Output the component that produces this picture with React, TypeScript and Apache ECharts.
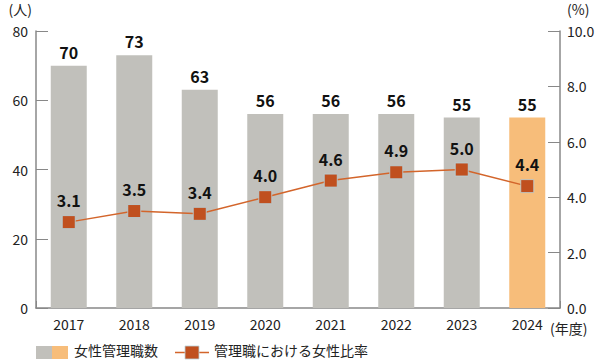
import React, { useEffect, useRef } from "react";
import * as echarts from "echarts";

const years = ["2017", "2018", "2019", "2020", "2021", "2022", "2023", "2024"];
const managers = [70, 73, 63, 56, 56, 56, 55, 55];
const ratio = [3.1, 3.5, 3.4, 4.0, 4.6, 4.9, 5.0, 4.4];
const leftTicks = [0, 20, 40, 60, 80];
const rightTicks = [0, 2, 4, 6, 8, 10];

const GRAY = "#c1c0bb";
const ORANGE = "#f7bd7a";
const MARK = "#c0501f";
const LINE = "#d3652b";
const FONT = "'Noto Sans CJK JP', 'Noto Sans', sans-serif";

export default function App() {
  const ref = useRef<HTMLDivElement>(null);
  useEffect(() => {
    if (!ref.current) return;
    const chart = echarts.init(ref.current, null, { renderer: "svg" });
    const lastIdx = years.length - 1;
    chart.setOption({
      animation: false,
      textStyle: { fontFamily: FONT },
      grid: { left: 36, right: 40, top: 31, bottom: 54 },
      xAxis: {
        type: "category",
        data: years,
        axisLine: { lineStyle: { color: "#888", width: 1.5 } },
        axisTick: {
          show: true,
          inside: true,
          length: 7,
          lineStyle: { color: "#888" },
          interval: (i: number) => i === lastIdx,
        },
        axisLabel: { color: "#222", fontSize: 14, margin: 9, fontFamily: FONT },
      },
      yAxis: [
        {
          type: "value",
          min: leftTicks[0],
          max: leftTicks[leftTicks.length - 1],
          interval: 20,
          name: "(人)",
          nameLocation: "end",
          nameGap: 15,
          nameTextStyle: { color: "#222", fontSize: 14, align: "right", padding: [0, 4, 0, 0], fontFamily: FONT },
          axisLine: { show: true, lineStyle: { color: "#888", width: 1.5 } },
          axisTick: { show: true, inside: true, length: 12, lineStyle: { color: "#888" } },
          axisLabel: { color: "#222", fontSize: 14, margin: 8, fontFamily: FONT },
          splitLine: { show: false },
        },
        {
          type: "value",
          min: rightTicks[0],
          max: rightTicks[rightTicks.length - 1],
          interval: 2,
          position: "right",
          name: "(%)",
          nameLocation: "end",
          nameGap: 15,
          nameTextStyle: { color: "#222", fontSize: 14, align: "left", padding: [0, 0, 0, 7], fontFamily: FONT },
          axisLine: { show: true, lineStyle: { color: "#888", width: 1.5 } },
          axisTick: { show: true, inside: true, length: 12, lineStyle: { color: "#888" } },
          axisLabel: {
            color: "#222",
            fontSize: 14,
            lineHeight: 14,
            margin: 7,
            fontFamily: FONT,
            formatter: (v: number) => v.toFixed(1),
          },
          splitLine: { show: false },
        },
      ],
      series: [
        {
          type: "bar",
          yAxisIndex: 0,
          barWidth: 36,
          data: managers.map((v, i) => ({
            value: v,
            itemStyle: { color: i === lastIdx ? ORANGE : GRAY },
          })),
          label: {
            show: true,
            position: "top",
            distance: 6,
            color: "#111",
            fontSize: 16,
            fontWeight: "bold",
            fontFamily: FONT,
          },
        },
        {
          type: "line",
          yAxisIndex: 1,
          data: ratio,
          symbol: "rect",
          symbolSize: 13,
          lineStyle: { color: LINE, width: 1.5 },
          itemStyle: { color: MARK, borderColor: "#b9d3dc", borderWidth: 0.8 },
          label: {
            show: true,
            position: "top",
            distance: 7,
            color: "#111",
            fontSize: 16,
            fontWeight: "bold",
            fontFamily: FONT,
            formatter: (p: any) => Number(p.value).toFixed(1),
          },
          z: 5,
        },
      ],
      graphic: [
        { type: "text", left: 550, top: 321, style: { text: "(年度)", fill: "#222", font: `14px ${FONT}`, lineHeight: 14 } },
        { type: "rect", shape: { x: 36, y: 346, width: 16, height: 13 }, style: { fill: GRAY } },
        { type: "rect", shape: { x: 52, y: 346, width: 16, height: 13 }, style: { fill: ORANGE } },
        { type: "text", left: 74, top: 343, style: { text: "女性管理職数", fill: "#222", font: `14px ${FONT}` } },
        { type: "line", shape: { x1: 175, y1: 352.5, x2: 209, y2: 352.5 }, style: { stroke: LINE, lineWidth: 1.5 } },
        { type: "rect", shape: { x: 185, y: 346, width: 14, height: 13 }, style: { fill: MARK, stroke: "#b9d3dc", lineWidth: 0.8 } },
        { type: "text", left: 214, top: 343, style: { text: "管理職における女性比率", fill: "#222", font: `14px ${FONT}` } },
      ],
    });
    return () => chart.dispose();
  }, []);
  return <div ref={ref} style={{ width: 600, height: 362, position: "absolute", left: 0, top: 0 }} />;
}
